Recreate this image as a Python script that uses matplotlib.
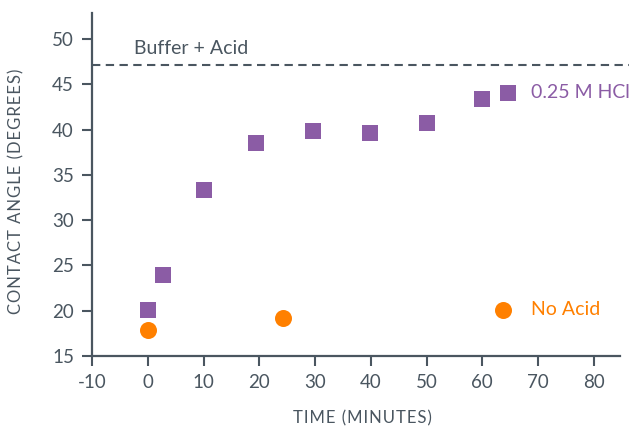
import numpy as np
import matplotlib
matplotlib.use("Agg")
import matplotlib.pyplot as plt

# data
hcl_time = [0, 2.7, 10, 19.4, 29.6, 39.8, 50, 59.9, 64.7]
hcl_angle = [20.1, 23.9, 33.3, 38.5, 39.9, 39.6, 40.7, 43.4, 44.1]
noacid_time = [0, 24.2, 63.8]
noacid_angle = [17.9, 19.2, 20.1]
buffer_angle = 47.1

xticks = [-10, 0, 10, 20, 30, 40, 50, 60, 70, 80]
yticks = [15, 20, 25, 30, 35, 40, 45, 50]

axis_col = '#4a5660'
purple = '#8b5ca5'
orange = '#ff8000'

plt.rcParams['font.family'] = ['Lato', 'DejaVu Sans']


def spaced(s):
    # widen letter spacing a little with hair spaces
    return '\u200a'.join(s)


fig = plt.figure(figsize=(6.29, 4.30), dpi=100)
ax = fig.add_axes([92/629, 74/430, (620-92)/629, (356-13)/430])

ax.scatter(hcl_time, hcl_angle, marker='s', s=125, color=purple, linewidths=0, zorder=3)
ax.scatter(noacid_time, noacid_angle, marker='o', s=150, color=orange, linewidths=0, zorder=3)
ax.axhline(buffer_angle, color=axis_col, linestyle=(0, (4, 2.6)), linewidth=1.5, clip_on=False,
           xmax=1.02)

ax.text(-2.5, buffer_angle + 0.9, 'Buffer + Acid', color=axis_col, fontsize=14, va='bottom')
ax.text(68.8, 44.1, '0.25 M HCl', color=purple, fontsize=14, va='center')
ax.text(68.8, 20.1, 'No Acid', color=orange, fontsize=14, va='center')

ax.set_xlim(-10, 84.7)
ax.set_ylim(15, 52.9)
ax.set_xticks(xticks)
ax.set_yticks(yticks)
ax.set_xticklabels([str(t) for t in xticks])

for s in ['top', 'right']:
    ax.spines[s].set_visible(False)
for s in ['left', 'bottom']:
    ax.spines[s].set_color(axis_col)
    ax.spines[s].set_linewidth(1.6)
ax.tick_params(colors=axis_col, length=7, width=1.5, labelsize=13.5, pad=6)

ax.set_xlabel(spaced('TIME (MINUTES)'), color=axis_col, fontsize=12)
ax.set_ylabel(spaced('CONTACT ANGLE (DEGREES)'), color=axis_col, fontsize=12)
ax.xaxis.set_label_coords(0.513, -0.181)
ax.yaxis.set_label_coords(-0.144, 0.48)
ax.xaxis.label.set_va('center')
ax.yaxis.label.set_va('center')

fig.savefig('out.png', dpi=100)
